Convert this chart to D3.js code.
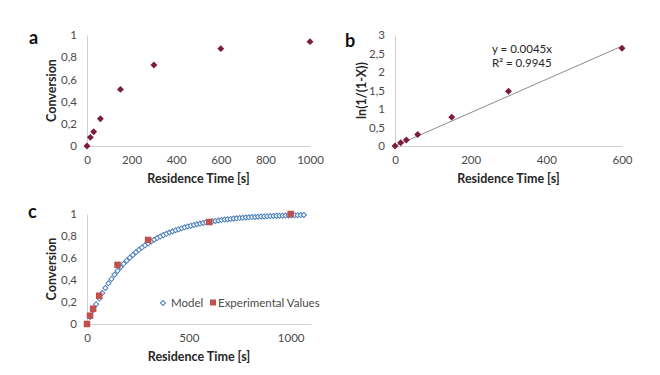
<!DOCTYPE html>
<html><head><meta charset="utf-8">
<script src="https://cdn.jsdelivr.net/npm/d3@7"></script>
<style>
body{margin:0;background:#fff;}
svg{display:block;}
text{font-family:Lato,"Open Sans",sans-serif;}
</style></head>
<body>
<svg id="chart" width="660" height="375"></svg>
<script>
// ---------- data ----------
const timeA = [0, 15, 30, 60, 150, 300, 600, 1000];
const convA = [0, 0.078, 0.129, 0.246, 0.51, 0.73, 0.877, 0.94];

const timeB = [0, 15, 30, 60, 150, 300, 600];
const lnB = [0, 0.09, 0.16, 0.31, 0.78, 1.48, 2.64];
const trendSlope = 0.0045;
const trendText = ["y = 0.0045x", "R² = 0.9945"];

const timeC = [0, 15, 30, 60, 150, 300, 600, 1000];
const convC = [0, 0.076, 0.139, 0.257, 0.538, 0.764, 0.927, 1.0];

const modelTime = [0,15,30,45,60,75,90,105,120,135,150,165,180,195,210,225,240,255,270,285,300,315,330,345,360,375,390,405,420,435,450,465,480,495,510,525,540,555,570,585,600,615,630,645,660,675,690,705,720,735,750,765,780,795,810,825,840,855,870,885,900,915,930,945,960,975,990,1005,1020,1035,1050,1065];
const modelConv = [0,0.064,0.124,0.180,0.232,0.281,0.327,0.370,0.410,0.448,0.483,0.516,0.547,0.576,0.603,0.628,0.652,0.674,0.695,0.715,0.733,0.750,0.766,0.781,0.795,0.808,0.820,0.832,0.842,0.853,0.862,0.871,0.879,0.887,0.894,0.901,0.907,0.913,0.919,0.924,0.929,0.933,0.937,0.941,0.945,0.949,0.952,0.955,0.958,0.961,0.963,0.965,0.968,0.970,0.972,0.973,0.975,0.977,0.978,0.980,0.981,0.982,0.983,0.984,0.985,0.986,0.987,0.988,0.989,0.989,0.990,0.991];

const ticksXA = [0, 200, 400, 600, 800, 1000];
const ticksYA = [0, 0.2, 0.4, 0.6, 0.8, 1];
const ticksXB = [0, 200, 400, 600];
const ticksYB = [0, 0.5, 1, 1.5, 2, 2.5, 3];
const ticksXC = [0, 500, 1000];
const ticksYC = [0, 0.2, 0.4, 0.6, 0.8, 1];
const legendLabels = ["Model", "Experimental Values"];

// ---------- helpers ----------
const svg = d3.select("#chart");
const fmt = v => String(v).replace(".", ",");
const axisColor = "#d0d0d0";
const labelColor = "#4a4a4a";
const titleColor = "#262626";
const darkRed = "#7d1c3c";

function drawAxes(g, x, y, xt, yt, xTitle, yTitle, yTitleX, xTitleY) {
  const ax = g.append("g").attr("transform", `translate(0,${y.range()[0]})`)
    .call(d3.axisBottom(x).tickValues(xt).tickSize(0).tickPadding(10).tickFormat(fmt));
  const ay = g.append("g").attr("transform", `translate(${x.range()[0]},0)`)
    .call(d3.axisLeft(y).tickValues(yt).tickSize(0).tickPadding(10).tickFormat(fmt));
  [ax, ay].forEach(a => {
    a.select(".domain").attr("stroke", axisColor).attr("stroke-width", 1);
    a.selectAll("text").attr("fill", labelColor).attr("font-size", 11.5)
      .attr("font-family", "Lato, sans-serif");
  });
  const xm = (x.range()[0] + x.range()[1]) / 2;
  g.append("text").attr("x", xm).attr("y", xTitleY).attr("text-anchor", "middle")
    .attr("font-weight", "bold").attr("font-size", 12.5).attr("fill", titleColor).text(xTitle);
  const ym = (y.range()[0] + y.range()[1]) / 2;
  g.append("text").attr("transform", `translate(${yTitleX},${ym}) rotate(-90)`)
    .attr("text-anchor", "middle").attr("font-weight", "bold").attr("font-size", 12.5)
    .attr("fill", titleColor).text(yTitle);
}
function panelLetter(x, y, t) {
  svg.append("text").attr("x", x).attr("y", y).attr("font-family", "Liberation Sans, Arial, sans-serif")
    .attr("font-weight", "bold").attr("font-size", 18).attr("fill", "#111").text(t);
}

// ---------- panel a ----------
{
  const g = svg.append("g");
  const x = d3.scaleLinear().domain([0, 1000]).range([87, 310]);
  const y = d3.scaleLinear().domain([0, 1]).range([146, 35]);
  drawAxes(g, x, y, ticksXA, ticksYA, "Residence Time [s]", "Conversion", 56, 183);
  g.selectAll(".pa").data(timeA).enter().append("path")
    .attr("transform", (d, i) => `translate(${x(d)},${y(convA[i])}) rotate(45)`)
    .attr("d", d3.symbol().type(d3.symbolSquare).size(24)).attr("fill", darkRed);
  panelLetter(29, 44, "a");
}

// ---------- panel b ----------
{
  const g = svg.append("g");
  const x = d3.scaleLinear().domain([0, 600]).range([395, 622]);
  const y = d3.scaleLinear().domain([0, 3]).range([146, 35]);
  drawAxes(g, x, y, ticksXB, ticksYB, "Residence Time [s]", "ln(1/(1-X))", 366, 183);
  g.append("line").attr("x1", x(0)).attr("y1", y(0))
    .attr("x2", x(600)).attr("y2", y(trendSlope * 600))
    .attr("stroke", "#8c8c8c").attr("stroke-width", 1);
  g.selectAll(".pb").data(timeB).enter().append("path")
    .attr("transform", (d, i) => `translate(${x(d)},${y(lnB[i])}) rotate(45)`)
    .attr("d", d3.symbol().type(d3.symbolSquare).size(24)).attr("fill", darkRed);
  g.selectAll(".tt").data(trendText).enter().append("text")
    .attr("x", 492).attr("y", (d, i) => 53 + i * 14)
    .attr("font-size", 11.5).attr("fill", titleColor).text(d => d);
  panelLetter(345, 47, "b");
}

// ---------- panel c ----------
{
  const g = svg.append("g");
  const x = d3.scaleLinear().domain([0, 1100]).range([87, 311]);
  const y = d3.scaleLinear().domain([0, 1]).range([324, 214]);
  drawAxes(g, x, y, ticksXC, ticksYC, "Residence Time [s]", "Conversion", 56, 361);
  g.selectAll(".pm").data(modelTime).enter().append("path")
    .attr("transform", (d, i) => `translate(${x(d)},${y(modelConv[i])}) rotate(45)`)
    .attr("d", d3.symbol().type(d3.symbolSquare).size(13))
    .attr("fill", "#fff").attr("stroke", "#4a7ebb").attr("stroke-width", 1);
  g.selectAll(".pc").data(timeC).enter().append("path")
    .attr("transform", (d, i) => `translate(${x(d)},${y(convC[i])})`)
    .attr("d", d3.symbol().type(d3.symbolSquare).size(42)).attr("fill", "#c0504d");
  // legend
  const lg = g.append("g");
  lg.append("path").attr("transform", "translate(163,303) rotate(45)")
    .attr("d", d3.symbol().type(d3.symbolSquare).size(13))
    .attr("fill", "#fff").attr("stroke", "#4a7ebb").attr("stroke-width", 1);
  lg.append("text").attr("x", 171).attr("y", 307).attr("font-size", 11.5)
    .attr("fill", labelColor).text(legendLabels[0]);
  lg.append("rect").attr("x", 210).attr("y", 299.5).attr("width", 6).attr("height", 6)
    .attr("fill", "#c0504d");
  lg.append("text").attr("x", 218).attr("y", 307).attr("font-size", 11.5)
    .attr("fill", labelColor).text(legendLabels[1]);
  panelLetter(28, 218, "c");
}
</script>
</body></html>
